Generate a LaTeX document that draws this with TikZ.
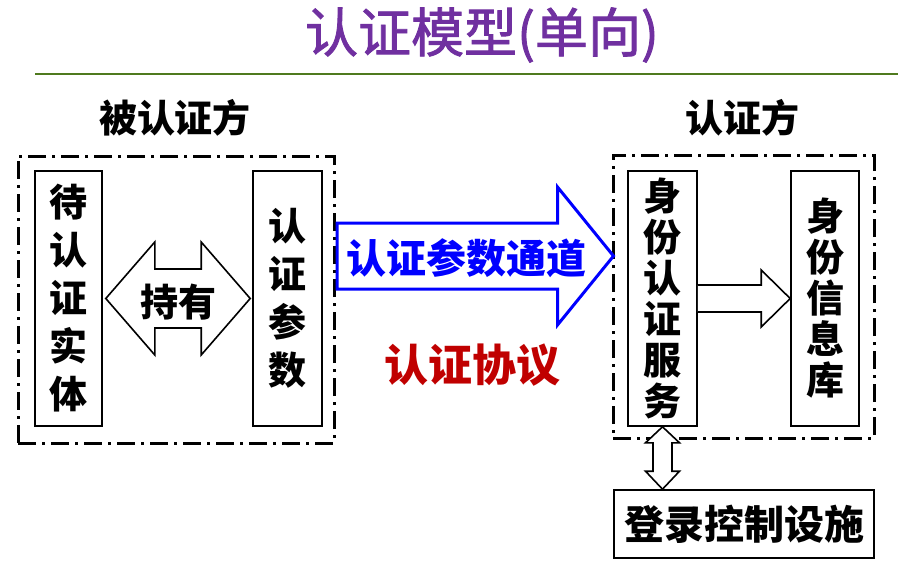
\documentclass[tikz,border=0pt]{standalone}
\usepackage{fontspec}
\setmainfont{Noto Sans CJK SC}
\newfontfamily\titlefont{Noto Sans CJK SC}[FakeBold=1.6]
\usetikzlibrary{calc}
\definecolor{titlepurple}{RGB}{112,48,160}
\definecolor{rulegreen}{RGB}{79,122,30}
\definecolor{protored}{RGB}{192,0,0}
\tikzset{
  grpbox/.style={draw, line width=3pt, dash pattern=on 18pt off 6pt on 3pt off 6pt, inner sep=0pt},
  partbox/.style={draw, line width=1.6pt, inner sep=0pt, align=center},
  fatarrow/.style={draw, fill=white, line width=1.6pt, line join=miter},
  bigtext/.style={font=\fontsize{#1}{#1}\selectfont\bfseries},
}
\begin{document}
\begin{tikzpicture}[x=1pt,y=-1pt]
\useasboundingbox (0,0) rectangle (898,570);

\node[font=\fontsize{53}{53}\selectfont\titlefont, text=titlepurple] (title) at (482,35) {认证模型(单向)};
\coordinate (rl) at (35,74);
\coordinate (rr) at (898,74);
\draw[rulegreen, line width=2pt] (rl) -- (rr);

\node[bigtext=38] (claimant) at (175,118) {被认证方};
\node[bigtext=38] (verifier) at (742,118) {认证方};

% dash-dot groups
\node[grpbox, minimum width=316pt, minimum height=287pt] (lgrp) at (176,299.5) {};
\node[grpbox, minimum width=261pt, minimum height=283pt] (rgrp) at (743.5,296.5) {};

\node[partbox, minimum width=67pt, minimum height=255pt, font=\fontsize{38}{48}\selectfont\bfseries] (ent) at (68.5,298.5) {待\\认\\证\\实\\体};
\node[partbox, minimum width=69pt, minimum height=255pt, font=\fontsize{38}{48}\selectfont\bfseries] (par) at (287.5,298.5) {认\\证\\参\\数};
\node[partbox, minimum width=69pt, minimum height=255pt, font=\fontsize{38}{41}\selectfont\bfseries] (svc) at (662.5,298.5) {身\\份\\认\\证\\服\\务};
\node[partbox, minimum width=68pt, minimum height=255pt, font=\fontsize{38}{41}\selectfont\bfseries] (db) at (825,298.5) {身\\份\\信\\息\\库};
\node[partbox, minimum width=260pt, minimum height=68pt, bigtext=40] (ctl) at (744,524) {登录控制设施};

% holds
\coordinate (hl) at ([xshift=3pt]ent.east);
\coordinate (hr) at ([xshift=-2pt]par.west);
\draw[fatarrow] (hl) -- ++(49,-56.5) -- ++(0,27) -- ($(hr)+(-49,-29.5)$) -- ++(0,-27)
  -- (hr) -- ++(-49,56.5) -- ++(0,-27) -- ($(hl)+(49,29.5)$) -- ++(0,27) -- cycle;
\node[bigtext=38] (hold) at ($(hl)!0.5!(hr)+(0,4)$) {持有};

% channel
\coordinate (chs) at (337,256);
\coordinate (che) at ([xshift=2pt]rgrp.west |- chs);
\draw[fatarrow, draw=blue, line width=3pt] ($(chs)+(0,-33)$) -- ($(che)+(-56,-33)$) -- ++(0,-36)
  -- (che) -- ($(che)+(-56,69)$) -- ++(0,-36) -- ($(chs)+(0,33)$) -- cycle;
\node[bigtext=40, text=blue] (chan) at ($(chs)!0.5!(che)+(-9,2)$) {认证参数通道};

\node[bigtext=44, text=protored] (proto) at (472,365) {认证协议};

% lookup
\coordinate (ls) at (svc.east);
\coordinate (le) at (db.west);
\draw[fatarrow] ($(ls)+(0,-13.5)$) -- ($(le)+(-29,-13.5)$) -- ++(0,-15) -- (le)
  -- ($(le)+(-29,28.5)$) -- ++(0,-15) -- ($(ls)+(0,13.5)$);

% login control
\coordinate (vt) at (svc.south);
\coordinate (vb) at (svc.south |- ctl.north);
\draw[fatarrow] (vt) -- ++(17,16) -- ++(-7.5,0) -- ($(vb)+(9.5,-18)$) -- ++(7.5,0)
  -- (vb) -- ++(-17,-18) -- ++(7.5,0) -- ($(vt)+(-9.5,16)$) -- ++(-7.5,0) -- cycle;
\end{tikzpicture}
\end{document}
